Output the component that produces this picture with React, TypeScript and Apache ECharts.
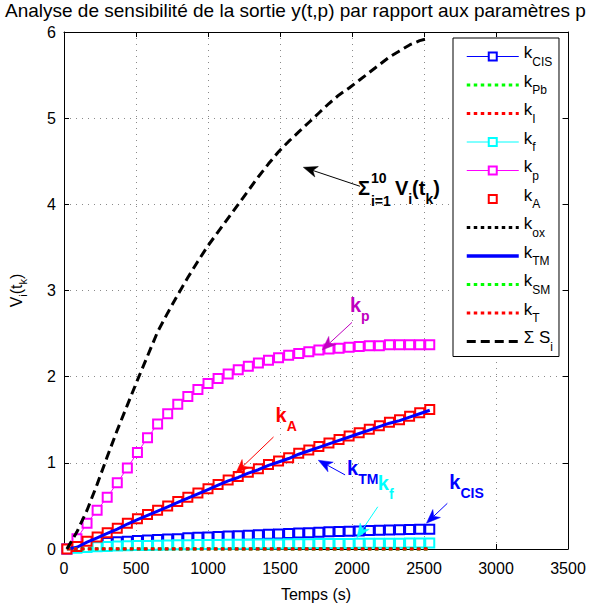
import React, { useEffect, useRef } from "react";
import * as echarts from "echarts";

const FONT = "'Liberation Sans', Arial, Helvetica, sans-serif";

const titleText = "Analyse de sensibilité de la sortie y(t,p) par rapport aux paramètres p";
const xTickMin = 0;
const xTickMax = 3500;
const xTickStep = 500;
const yTickMin = 0;
const yTickMax = 6;
const yTickStep = 1;

const timeS = [20, 90, 160, 230, 300, 370, 440, 510, 580, 650, 720, 790, 860, 930, 1000, 1070, 1140, 1210, 1280, 1350, 1420, 1490, 1560, 1630, 1700, 1770, 1840, 1910, 1980, 2050, 2120, 2190, 2260, 2330, 2400, 2470, 2540];

const kCIS = [0, 0.03, 0.05, 0.065, 0.075, 0.085, 0.09, 0.1, 0.105, 0.11, 0.115, 0.12, 0.13, 0.135, 0.14, 0.145, 0.15, 0.155, 0.16, 0.165, 0.17, 0.175, 0.18, 0.185, 0.19, 0.195, 0.2, 0.203, 0.207, 0.21, 0.214, 0.217, 0.22, 0.223, 0.226, 0.228, 0.23];
const kPb = [0, 0, 0, 0, 0, 0, 0, 0, 0, 0, 0, 0, 0, 0, 0, 0, 0, 0, 0, 0, 0, 0, 0, 0, 0, 0, 0, 0, 0, 0, 0, 0, 0, 0, 0, 0, 0];
const kI = [0, 0, 0, 0, 0, 0, 0, 0, 0, 0, 0, 0, 0, 0, 0, 0, 0, 0, 0, 0, 0, 0, 0, 0, 0, 0, 0, 0, 0, 0, 0, 0, 0, 0, 0, 0, 0];
const kf = [0, 0.01, 0.018, 0.025, 0.03, 0.034, 0.037, 0.04, 0.042, 0.044, 0.046, 0.048, 0.05, 0.051, 0.052, 0.053, 0.054, 0.055, 0.056, 0.057, 0.058, 0.059, 0.06, 0.061, 0.062, 0.063, 0.064, 0.065, 0.065, 0.066, 0.067, 0.067, 0.068, 0.068, 0.069, 0.069, 0.07];
const kp = [0, 0.12, 0.3, 0.45, 0.6, 0.77, 0.94, 1.12, 1.29, 1.45, 1.57, 1.68, 1.77, 1.85, 1.92, 1.98, 2.03, 2.08, 2.12, 2.16, 2.19, 2.22, 2.25, 2.27, 2.29, 2.31, 2.32, 2.33, 2.34, 2.35, 2.36, 2.36, 2.37, 2.37, 2.37, 2.37, 2.37];
const kA = [0, 0.03, 0.09, 0.14, 0.19, 0.24, 0.3, 0.35, 0.4, 0.45, 0.5, 0.55, 0.6, 0.65, 0.7, 0.75, 0.8, 0.84, 0.89, 0.93, 0.98, 1.02, 1.06, 1.11, 1.15, 1.19, 1.23, 1.27, 1.31, 1.35, 1.39, 1.43, 1.47, 1.5, 1.54, 1.58, 1.62];
const kox = [0, 0, 0, 0, 0, 0, 0, 0, 0, 0, 0, 0, 0, 0, 0, 0, 0, 0, 0, 0, 0, 0, 0, 0, 0, 0, 0, 0, 0, 0, 0, 0, 0, 0, 0, 0, 0];
const kTM = [0, 0.02, 0.08, 0.13, 0.18, 0.23, 0.29, 0.34, 0.39, 0.44, 0.49, 0.54, 0.59, 0.64, 0.69, 0.74, 0.79, 0.83, 0.88, 0.92, 0.97, 1.01, 1.05, 1.1, 1.14, 1.18, 1.22, 1.26, 1.3, 1.34, 1.38, 1.42, 1.46, 1.49, 1.53, 1.57, 1.61];
const kSM = [0, 0, 0, 0, 0, 0, 0, 0, 0, 0, 0, 0, 0, 0, 0, 0, 0, 0, 0, 0, 0, 0, 0, 0, 0, 0, 0, 0, 0, 0, 0, 0, 0, 0, 0, 0, 0];
const kT = [0, 0, 0, 0, 0, 0, 0, 0, 0, 0, 0, 0, 0, 0, 0, 0, 0, 0, 0, 0, 0, 0, 0, 0, 0, 0, 0, 0, 0, 0, 0, 0, 0, 0, 0, 0, 0];
const sumS = [0, 0.2, 0.45, 0.75, 1.07, 1.38, 1.67, 1.96, 2.24, 2.52, 2.74, 2.95, 3.15, 3.34, 3.52, 3.68, 3.84, 4.0, 4.16, 4.32, 4.47, 4.61, 4.73, 4.84, 4.95, 5.06, 5.17, 5.27, 5.35, 5.44, 5.53, 5.62, 5.71, 5.78, 5.85, 5.9, 5.93];

type SeriesDef = {
  name: string;
  sub: string;
  values: number[];
  color: string;
  symbol: string;
  lineWidth: number;
  lineType: any;
};

const DOT: number[] = [3.5, 3.5];
const seriesDefs: SeriesDef[] = [
  { name: "kCIS", sub: "CIS", values: kCIS, color: "#0000ff", symbol: "emptyRect", lineWidth: 1, lineType: "solid" },
  { name: "kPb", sub: "Pb", values: kPb, color: "#00ff00", symbol: "none", lineWidth: 3, lineType: DOT },
  { name: "kI", sub: "I", values: kI, color: "#ff0000", symbol: "none", lineWidth: 3, lineType: DOT },
  { name: "kf", sub: "f", values: kf, color: "#00ffff", symbol: "emptyRect", lineWidth: 1, lineType: "solid" },
  { name: "kp", sub: "p", values: kp, color: "#ff00ff", symbol: "emptyRect", lineWidth: 1, lineType: "solid" },
  { name: "kA", sub: "A", values: kA, color: "#ff0000", symbol: "emptyRect", lineWidth: 0, lineType: "solid" },
  { name: "kox", sub: "ox", values: kox, color: "#000000", symbol: "none", lineWidth: 3, lineType: DOT },
  { name: "kTM", sub: "TM", values: kTM, color: "#0000ff", symbol: "none", lineWidth: 3, lineType: "solid" },
  { name: "kSM", sub: "SM", values: kSM, color: "#00ff00", symbol: "none", lineWidth: 3, lineType: DOT },
  { name: "kT", sub: "T", values: kT, color: "#ff0000", symbol: "none", lineWidth: 3, lineType: DOT },
  { name: "ΣSi", sub: "i", values: sumS, color: "#000000", symbol: "none", lineWidth: 3, lineType: [9, 5] },
];

type Annot = { color: string; tail: number[]; tip: number[]; label?: number[]; sub?: string };
const annotations: Annot[] = [
  { color: "#000000", tip: [1662, 4.43], tail: [2055, 4.21] },
  { color: "#bf00bf", tip: [1793, 2.31], tail: [2000, 2.63], label: [1986, 2.77], sub: "p" },
  { color: "#ff0000", tip: [1193, 0.88], tail: [1455, 1.3], label: [1469, 1.5], sub: "A" },
  { color: "#0000ff", tip: [1766, 1.03], tail: [1952, 0.86], label: [1966, 0.88], sub: "TM" },
  { color: "#00ffff", tip: [2034, 0.13], tail: [2179, 0.49], label: [2179, 0.71], sub: "f" },
  { color: "#0000ff", tip: [2517, 0.3], tail: [2662, 0.53], label: [2676, 0.72], sub: "CIS" },
];
const sumLabelAnchor = [2041, 4.19];

function arrowGraphics(p0: number[], p1: number[], color: string) {
  const L = 14;
  const W = 5.5;
  const dx = p1[0] - p0[0];
  const dy = p1[1] - p0[1];
  const len = Math.hypot(dx, dy) || 1;
  const ux = dx / len;
  const uy = dy / len;
  const nx = -uy;
  const ny = ux;
  const base = [p1[0] - ux * L, p1[1] - uy * L];
  const notch = [p1[0] - ux * L * 0.72, p1[1] - uy * L * 0.72];
  return [
    {
      type: "line",
      silent: true,
      z: 110,
      shape: { x1: p0[0], y1: p0[1], x2: notch[0], y2: notch[1] },
      style: { stroke: color, lineWidth: 1 },
    },
    {
      type: "polygon",
      silent: true,
      z: 110,
      shape: {
        points: [
          [p1[0], p1[1]],
          [base[0] + nx * W, base[1] + ny * W],
          [notch[0], notch[1]],
          [base[0] - nx * W, base[1] - ny * W],
        ],
      },
      style: { fill: color, stroke: color, lineWidth: 0.5 },
    },
  ];
}

function legendLabel(name: string): string {
  const d = seriesDefs.find((s) => s.name === name);
  if (!d) return name;
  if (name === "ΣSi") return "{a|Σ S}{b|i}";
  return "{a|k}{b|" + d.sub + "}";
}

export default function App() {
  const ref = useRef<HTMLDivElement>(null);

  useEffect(() => {
    if (!ref.current) return;
    const chart = echarts.init(ref.current, null, { renderer: "svg" });

    const axisLine = { show: true, onZero: false, lineStyle: { color: "#000", width: 1 } };
    const axisTick = { show: true, inside: true, length: 5, lineStyle: { color: "#000", width: 1 } };
    const splitLine = { show: true, lineStyle: { color: "#8a8a8a", width: 1, type: [1, 5] } };

    const series = seriesDefs.map((d, idx) => ({
      name: d.name,
      type: "line",
      data: timeS.map((t, i) => [t, d.values[i]]),
      symbol: d.symbol,
      symbolSize: 9,
      showSymbol: d.symbol !== "none",
      showAllSymbol: true,
      color: d.color,
      itemStyle: { color: d.color, borderColor: d.color, borderWidth: 2.5 },
      lineStyle: {
        color: d.color,
        width: d.lineWidth,
        type: d.lineType,
        opacity: d.lineWidth === 0 ? 0 : 1,
      },
      emphasis: { disabled: true },
      silent: true,
      clip: true,
      z: 2 + idx,
    }));

    const legendData = seriesDefs.map((d) => ({
      name: d.name,
      itemStyle: d.symbol === "none" ? { opacity: 0 } : { borderWidth: 1.5, color: d.color, borderColor: d.color },
      lineStyle: {
        color: d.color,
        width: d.name === "kTM" ? 3.5 : d.lineWidth,
        type: d.lineType,
        opacity: d.lineWidth === 0 ? 0 : 1,
      },
    }));

    chart.setOption({
      animation: false,
      backgroundColor: "#ffffff",
      textStyle: { fontFamily: FONT },
      title: {
        text: titleText,
        left: 5,
        top: 1,
        padding: 0,
        textStyle: { fontSize: 19, fontWeight: "normal", color: "#000", fontFamily: FONT },
      },
      grid: { left: 62, right: 24, top: 32, bottom: 63, containLabel: false },
      legend: {
        orient: "vertical",
        left: 453,
        top: 38,
        z: 100,
        itemWidth: 52,
        itemHeight: 10,
        itemGap: 5,
        padding: [6, 6, 4, 12],
        backgroundColor: "#fff",
        borderColor: "#000",
        borderWidth: 1,
        borderRadius: 0,
        selectedMode: false,
        data: legendData,
        formatter: legendLabel,
        textStyle: {
          color: "#000",
          fontFamily: FONT,
          rich: {
            a: { fontSize: 17, color: "#000", fontFamily: FONT, padding: [0, 0, 8, 0] },
            b: { fontSize: 12, color: "#000", fontFamily: FONT, padding: [10, 0, 0, 0] },
          },
        },
      },
      xAxis: [
        {
          type: "value",
          min: xTickMin,
          max: xTickMax,
          interval: xTickStep,
          position: "bottom",
          axisLine,
          axisTick,
          splitLine,
          axisLabel: { color: "#000", fontSize: 16, margin: 11, fontFamily: FONT, formatter: (v: number) => String(v) },
          name: "Temps (s)",
          nameLocation: "middle",
          nameGap: 37,
          nameTextStyle: { color: "#000", fontSize: 16, fontFamily: FONT },
        },
        {
          type: "value",
          min: xTickMin,
          max: xTickMax,
          interval: xTickStep,
          position: "top",
          axisLine,
          axisTick,
          splitLine: { show: false },
          axisLabel: { show: false },
        },
      ],
      yAxis: [
        {
          type: "value",
          min: yTickMin,
          max: yTickMax,
          interval: yTickStep,
          position: "left",
          axisLine,
          axisTick,
          splitLine,
          axisLabel: { color: "#000", fontSize: 16, margin: 8, fontFamily: FONT, formatter: (v: number) => String(v) },
          name: "{v|V}{s|i}{v|(t}{s|k}{v|)}",
          nameLocation: "middle",
          nameRotate: 90,
          nameGap: 34,
          nameTextStyle: {
            color: "#000",
            fontFamily: FONT,
            rich: {
              v: { fontSize: 16, color: "#000", fontFamily: FONT, padding: [0, 0, 6, 0] },
              s: { fontSize: 11, color: "#000", fontFamily: FONT, padding: [8, 0, 0, 0] },
            },
          },
        },
        {
          type: "value",
          min: yTickMin,
          max: yTickMax,
          interval: yTickStep,
          position: "right",
          axisLine,
          axisTick,
          splitLine: { show: false },
          axisLabel: { show: false },
        },
      ],
      series,
    });

    const toPx = (p: number[]) =>
      chart.convertToPixel({ xAxisIndex: 0, yAxisIndex: 0 }, p) as number[];

    const graphics: any[] = [];
    annotations.forEach((a) => {
      graphics.push(...arrowGraphics(toPx(a.tail), toPx(a.tip), a.color));
      if (a.label && a.sub) {
        const lp = toPx(a.label);
        graphics.push({
          type: "text",
          silent: true,
          z: 111,
          x: lp[0],
          y: lp[1],
          style: {
            text: "{k|k}{s|" + a.sub + "}",
            align: "left",
            verticalAlign: "middle",
            fill: a.color,
            rich: {
              k: { fontSize: 20, fontWeight: "bold", fontFamily: FONT, fill: a.color, padding: [0, 0, 10, 0] },
              s: { fontSize: 14, fontWeight: "bold", fontFamily: FONT, fill: a.color, padding: [12, 0, 0, 0] },
            },
          },
        });
      }
    });

    const sp = toPx(sumLabelAnchor);
    const boldBig = { fontSize: 20, fontWeight: "bold", fontFamily: FONT, fill: "#000" };
    const boldSmall = { fontSize: 14, fontWeight: "bold", fontFamily: FONT, fill: "#000" };
    graphics.push(
      { type: "text", silent: true, z: 111, x: sp[0], y: sp[1], style: { ...boldBig, text: "Σ", align: "left", verticalAlign: "middle" } },
      { type: "text", silent: true, z: 111, x: sp[0] + 13, y: sp[1] - 10, style: { ...boldSmall, text: "10", align: "left", verticalAlign: "middle" } },
      { type: "text", silent: true, z: 111, x: sp[0] + 13, y: sp[1] + 13, style: { ...boldSmall, text: "i=1", align: "left", verticalAlign: "middle" } },
      {
        type: "text",
        silent: true,
        z: 111,
        x: sp[0] + 37,
        y: sp[1] + 5,
        style: {
          text: "{v|V}{s|i}{v|(t}{s|k}{v|)}",
          align: "left",
          verticalAlign: "middle",
          fill: "#000",
          rich: {
            v: { ...boldBig, padding: [0, 0, 10, 0] },
            s: { ...boldSmall, padding: [12, 0, 0, 0] },
          },
        },
      }
    );

    chart.setOption({ graphic: graphics });

    return () => chart.dispose();
  }, []);

  return (
    <div
      ref={ref}
      style={{ position: "fixed", left: 0, top: 0, width: 592, height: 612, background: "#fff" }}
    />
  );
}
